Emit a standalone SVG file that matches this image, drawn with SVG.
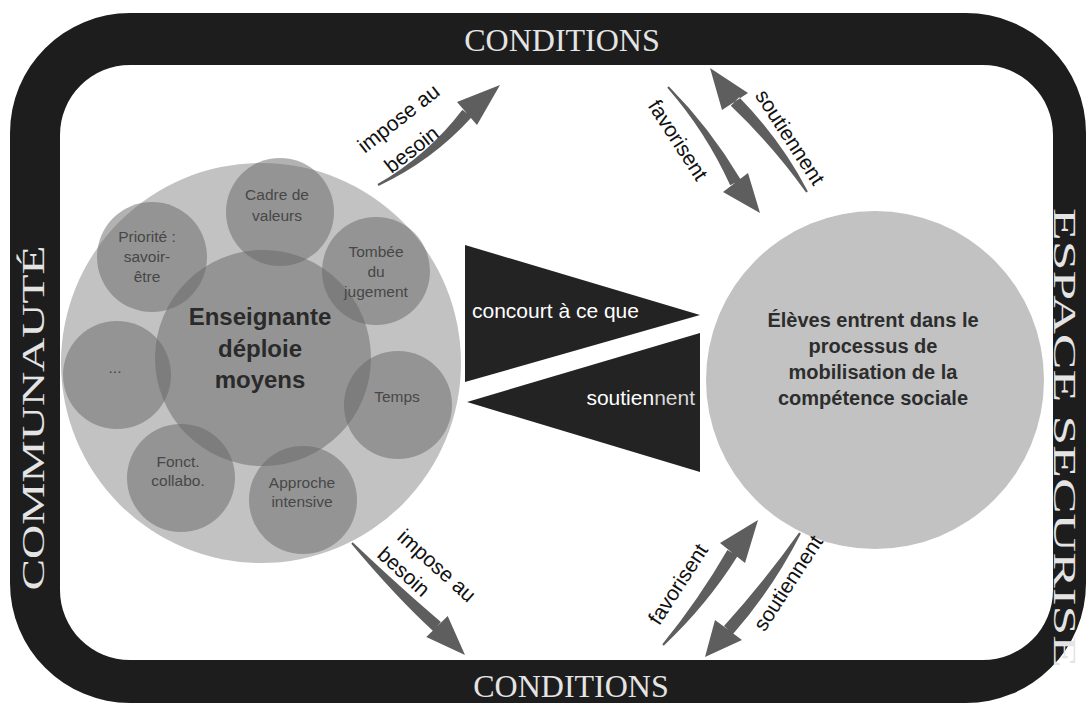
<svg xmlns="http://www.w3.org/2000/svg" width="1089" height="708" viewBox="0 0 1089 708">
<style>
.frame{fill:#1d1d1d;fill-rule:evenodd}
.band{font-family:"Liberation Serif","Times New Roman",serif;fill:#e4e4e4;font-size:32px;text-anchor:middle}
.big{fill:#c2c2c2}
.sub{fill:#666;fill-opacity:0.5}
.st{font-family:"Liberation Sans",Arial,sans-serif;font-size:15.5px;fill:#474747;text-anchor:middle}
.ct{font-family:"Liberation Sans",Arial,sans-serif;font-size:24px;font-weight:bold;fill:#2a2a2a;text-anchor:middle}
.rt{font-family:"Liberation Sans",Arial,sans-serif;font-size:20px;font-weight:bold;fill:#2d2d2d;text-anchor:middle}
.tri{fill:#232323}
.tw{font-family:"Liberation Sans",Arial,sans-serif;font-size:21px;fill:#fff}
.arr{fill:#5e5e5e}
.al{font-family:"Liberation Sans",Arial,sans-serif;font-size:21px;fill:#111;text-anchor:middle}
</style>
<rect width="1089" height="708" fill="#fff"/>
<g id="frame">
<path class="frame" d="M130,13 H966 A120,120 0 0 1 1086,133 V583 A120,120 0 0 1 966,703 H130 A120,120 0 0 1 10,583 V133 A120,120 0 0 1 130,13 Z M130,65 A70,70 0 0 0 60,135 V590 A70,70 0 0 0 130,660 H983 A70,70 0 0 0 1053,590 V135 A70,70 0 0 0 983,65 Z"/>
<text class="band" x="562" y="51">CONDITIONS</text>
<text class="band" x="571" y="697">CONDITIONS</text>
<text class="band" font-size="30" transform="translate(44,418) rotate(-90)" textLength="345" lengthAdjust="spacingAndGlyphs">COMMUNAUTÉ</text>
<text class="band" font-size="30" transform="translate(1054,438) rotate(90)" textLength="460" lengthAdjust="spacingAndGlyphs">ESPACE SECURISE</text>
</g>
<g id="enseignante">
<circle class="big" cx="261" cy="363" r="200"/>
<circle class="sub" cx="263" cy="358" r="108"/>
<g id="cadre"><circle class="sub" cx="280" cy="212" r="54"/><text class="st" x="277" y="200">Cadre de</text><text class="st" x="277" y="221">valeurs</text></g>
<g id="tombee"><circle class="sub" cx="376" cy="271" r="54"/><text class="st" x="376" y="257">Tombée</text><text class="st" x="376" y="277">du</text><text class="st" x="376" y="297">jugement</text></g>
<g id="temps"><circle class="sub" cx="398" cy="405" r="54"/><text class="st" x="397" y="402">Temps</text></g>
<g id="approche"><circle class="sub" cx="303" cy="500" r="54"/><text class="st" x="302" y="488">Approche</text><text class="st" x="302" y="507">intensive</text></g>
<g id="fonct"><circle class="sub" cx="181" cy="478" r="54"/><text class="st" x="178" y="467">Fonct.</text><text class="st" x="178" y="486">collabo.</text></g>
<g id="etc"><circle class="sub" cx="117" cy="375" r="54"/><text class="st" x="115" y="373">...</text></g>
<g id="priorite"><circle class="sub" cx="152" cy="257" r="55"/><text class="st" x="147" y="242">Priorité :</text><text class="st" x="147" y="262">savoir-</text><text class="st" x="147" y="282">être</text></g>
<text class="ct" x="260" y="325">Enseignante</text>
<text class="ct" x="260" y="357">déploie</text>
<text class="ct" x="260" y="388">moyens</text>
</g>
<g id="eleves">
<circle class="big" fill="#bcbcbc" cx="875" cy="380" r="169"/>
<text class="rt" x="873" y="327">Élèves entrent dans le</text>
<text class="rt" x="873" y="353">processus de</text>
<text class="rt" x="873" y="379">mobilisation de la</text>
<text class="rt" x="873" y="405">compétence sociale</text>
</g>
<g id="connectors">
<polygon class="tri" points="465,245 465,382 700,315"/>
<text class="tw" x="472" y="318">concourt à ce que</text>
<polygon class="tri" points="467,402 700,333 700,472"/>
<text class="tw" x="695" y="405" text-anchor="end">soutien<tspan fill="#d8d8d8">nent</tspan></text>
<path class="arr" d="M377.5,184.1 Q428,155 462.4,109.7 L471.6,117.3 Q432,161 378.5,185.9 Z M457,102 L500,85 L477,125 Z"/>
<path class="arr" d="M667.3,87.7 Q706,132 730.2,185.3 L740.8,179.7 Q710,128 668.7,86.3 Z M723,192 L760,213 L748,173 Z"/>
<path class="arr" d="M807.9,191.5 Q781,140 739.2,97.2 L730.8,105.8 Q773,146 806.1,192.5 Z M722,110 L710,68 L748,93 Z"/>
<path class="arr" d="M352.7,542.3 Q403,590 440.9,621.9 L433.1,630.9 Q397,598 351.3,543.7 Z M447.7,615.9 L465,655 L426.3,636.9 Z"/>
<path class="arr" d="M662.3,644.3 Q699,599 727.4,549.9 L737.6,556.1 Q707,605 663.7,645.7 Z M720,543 L758,520 L745,563 Z"/>
<path class="arr" d="M799.1,532.5 Q764,582 724,626 L733,634 Q772,590 800.9,533.5 Z M715,620 L705,657 L742,640 Z"/>
<text class="al" transform="translate(403,124) rotate(-38)">impose au</text>
<text class="al" transform="translate(416,155) rotate(-38)">besoin</text>
<text class="al" transform="translate(672,144) rotate(57)">favorisent</text>
<text class="al" transform="translate(784,141) rotate(57)">soutiennent</text>
<text class="al" transform="translate(432,571) rotate(42)">impose au</text>
<text class="al" transform="translate(399,577) rotate(42)">besoin</text>
<text class="al" transform="translate(684,588) rotate(-57)">favorisent</text>
<text class="al" transform="translate(794,587) rotate(-57)">soutiennent</text>
</g>
</svg>
